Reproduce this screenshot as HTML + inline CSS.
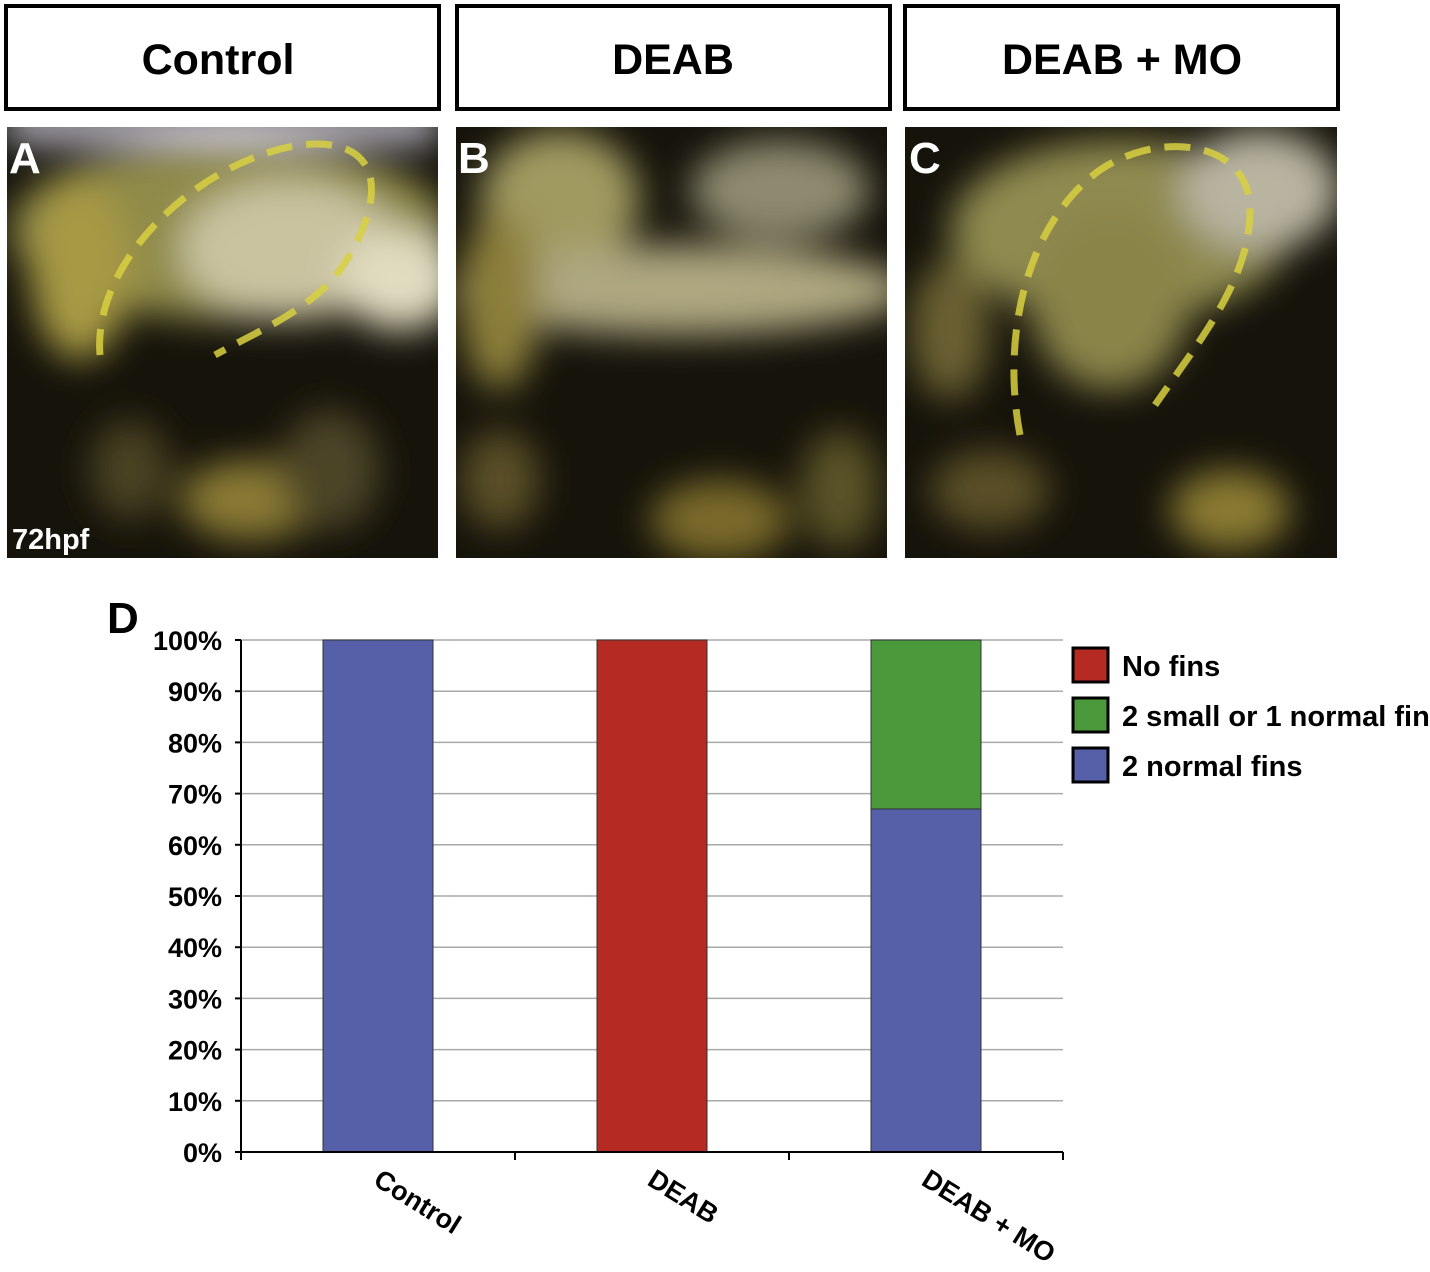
<!DOCTYPE html>
<html><head><meta charset="utf-8"><style>
body{margin:0;background:#fff;width:1430px;height:1272px;overflow:hidden}
svg{display:block;font-family:"Liberation Sans",Arial,sans-serif;font-weight:bold}
</style></head><body>
<svg id="fig" width="1430" height="1272" viewBox="0 0 1430 1272">
<defs>
<filter id="bl" x="-50%" y="-50%" width="200%" height="200%"><feGaussianBlur stdDeviation="18"/></filter>
<clipPath id="cA"><rect x="7" y="127" width="431" height="431"/></clipPath>
<clipPath id="cB"><rect x="456" y="127" width="431" height="431"/></clipPath>
<clipPath id="cC"><rect x="905" y="127" width="432" height="431"/></clipPath>
</defs>
<g><rect x="6" y="6" width="433" height="103" fill="#fff" stroke="#000" stroke-width="4"/><text x="218" y="74" text-anchor="middle" font-size="43">Control</text></g>
<g><rect x="457" y="6" width="433" height="103" fill="#fff" stroke="#000" stroke-width="4"/><text x="673" y="74" text-anchor="middle" font-size="43">DEAB</text></g>
<g><rect x="905" y="6" width="433" height="103" fill="#fff" stroke="#000" stroke-width="4"/><text x="1122" y="74" text-anchor="middle" font-size="43">DEAB + MO</text></g>
<g clip-path="url(#cA)">
<rect x="7" y="127" width="431" height="431" fill="#15130a"/>
<g filter="url(#bl)">
<rect x="7" y="110" width="431" height="30" fill="#d8d4e8"/>
<ellipse cx="230" cy="230" rx="220" ry="90" fill="#8f8a4a"/>
<ellipse cx="290" cy="250" rx="110" ry="70" fill="#c9c3a0"/>
<ellipse cx="400" cy="280" rx="60" ry="50" fill="#e0dcc0"/>
<ellipse cx="80" cy="270" rx="50" ry="90" fill="#a79a45"/>
<ellipse cx="250" cy="500" rx="70" ry="40" fill="#8a7a35"/>
<ellipse cx="130" cy="470" rx="40" ry="50" fill="#4a4220"/>
<ellipse cx="330" cy="470" rx="50" ry="60" fill="#4c4525"/>
</g>
<path d="M100,355 C92,260 200,160 300,145 C390,135 385,205 340,270 C310,310 260,330 215,355" fill="none" stroke="#d8d040" stroke-width="7" stroke-dasharray="26,14" opacity="0.85"/>
<text x="9" y="173" font-size="44" fill="#fff">A</text>
<text x="12" y="549" font-size="29" fill="#fff">72hpf</text>
</g>
<g clip-path="url(#cB)">
<rect x="456" y="127" width="431" height="431" fill="#15130a"/>
<g filter="url(#bl)">
<ellipse cx="560" cy="200" rx="80" ry="70" fill="#a09a60"/>
<ellipse cx="780" cy="190" rx="90" ry="50" fill="#8d8a70"/>
<ellipse cx="680" cy="290" rx="230" ry="45" fill="#aea780"/>
<ellipse cx="500" cy="300" rx="40" ry="90" fill="#8c7f3a"/>
<ellipse cx="720" cy="520" rx="70" ry="40" fill="#7a6a2a"/>
<ellipse cx="500" cy="480" rx="40" ry="50" fill="#5a5025"/>
<ellipse cx="840" cy="490" rx="40" ry="60" fill="#5a5228"/>
</g>
<text x="458" y="173" font-size="44" fill="#fff">B</text>
</g>
<g clip-path="url(#cC)">
<rect x="905" y="127" width="432" height="431" fill="#15130a"/>
<g filter="url(#bl)">
<ellipse cx="1120" cy="230" rx="170" ry="90" fill="#8f8a50"/>
<ellipse cx="1260" cy="190" rx="80" ry="60" fill="#b8b4a0"/>
<ellipse cx="1110" cy="300" rx="80" ry="90" fill="#8a844a"/>
<ellipse cx="950" cy="330" rx="40" ry="70" fill="#6a6030"/>
<ellipse cx="1230" cy="510" rx="60" ry="40" fill="#8a7a30"/>
<ellipse cx="990" cy="490" rx="60" ry="40" fill="#5a5025"/>
</g>
<path d="M1020,435 C1000,330 1030,220 1100,170 C1160,130 1250,140 1250,210 C1250,280 1200,340 1155,405" fill="none" stroke="#d8d040" stroke-width="7" stroke-dasharray="26,14" opacity="0.85"/>
<text x="909" y="173" font-size="44" fill="#fff">C</text>
</g>
<text x="107" y="633" font-size="44">D</text>
<g id="chart"></g>
</svg>
<script>
const categories = ["Control", "DEAB", "DEAB + MO"];
const normalFins = [100, 0, 67];
const smallFins = [0, 0, 33];
const noFins = [0, 100, 0];
const yTicks = [0,10,20,30,40,50,60,70,80,90,100];
const seriesNames = ["No fins", "2 small or 1 normal fin", "2 normal fins"];

const NS = "http://www.w3.org/2000/svg";
const g = document.getElementById('chart');
const X0 = 241, X1 = 1063, Y0 = 1152, Y1 = 640;
const yS = v => Y0 - (v/100)*(Y0-Y1);
const band = (X1-X0)/categories.length;
const xC = i => X0 + band*(i+0.5);
const BW = 110;
function mk(tag, attrs){const e=document.createElementNS(NS,tag);for(const k in attrs)e.setAttribute(k,attrs[k]);g.appendChild(e);return e;}

yTicks.forEach(v=>{
  const y=yS(v);
  if(v>0){const l=mk('line',{x1:X0,x2:X1,y1:y,y2:y,stroke:'#aaa','stroke-width':1.5});
  
  }
  const t=mk('line',{x1:X0-6,x2:X0,y1:y,y2:y,stroke:'#000','stroke-width':2});
  
  
  const tx=mk('text',{x:222,y:y+10,'text-anchor':'end','font-size':27});
  tx.textContent=v+'%';
  
  
});
const colors={no:'#b52a22',small:'#4a9a3c',normal:'#5560a8'};
categories.forEach((c,i)=>{
  let base=0;
  [[normalFins,colors.normal,'normal'],[smallFins,colors.small,'small'],[noFins,colors.no,'none']].forEach(([arr,col,nm])=>{
    const v=arr[i]; if(v<=0) return;
    const r=mk('rect',{x:xC(i)-BW/2,y:yS(base+v),width:BW,height:yS(base)-yS(base+v),fill:col,stroke:'#333','stroke-width':1});
    
    
    base+=v;
  });
  const t=mk('text',{x:xC(i)-6,y:Y0+32,'font-size':27,transform:`rotate(32 ${xC(i)-6} ${Y0+32})`});
  t.textContent=c;
  
  
});
for(let i=0;i<=categories.length;i++){
  const x=X0+band*i;
  const t=mk('line',{x1:x,x2:x,y1:Y0,y2:Y0+8,stroke:'#000','stroke-width':2});
  
  
}
const ya=mk('line',{x1:X0,x2:X0,y1:Y1,y2:Y0,stroke:'#000','stroke-width':2});


const xa=mk('line',{x1:X0,x2:X1,y1:Y0,y2:Y0,stroke:'#000','stroke-width':2});


const legCols=[colors.no,colors.small,colors.normal];
seriesNames.forEach((n,i)=>{
  const y=648+i*50;
  const r=mk('rect',{x:1073,y:y,width:35,height:34,fill:legCols[i],stroke:'#000','stroke-width':3});
  
  
  const t=mk('text',{x:1122,y:y+28,'font-size':29});
  t.textContent=n;
  
  
});
</script>
</body></html>
